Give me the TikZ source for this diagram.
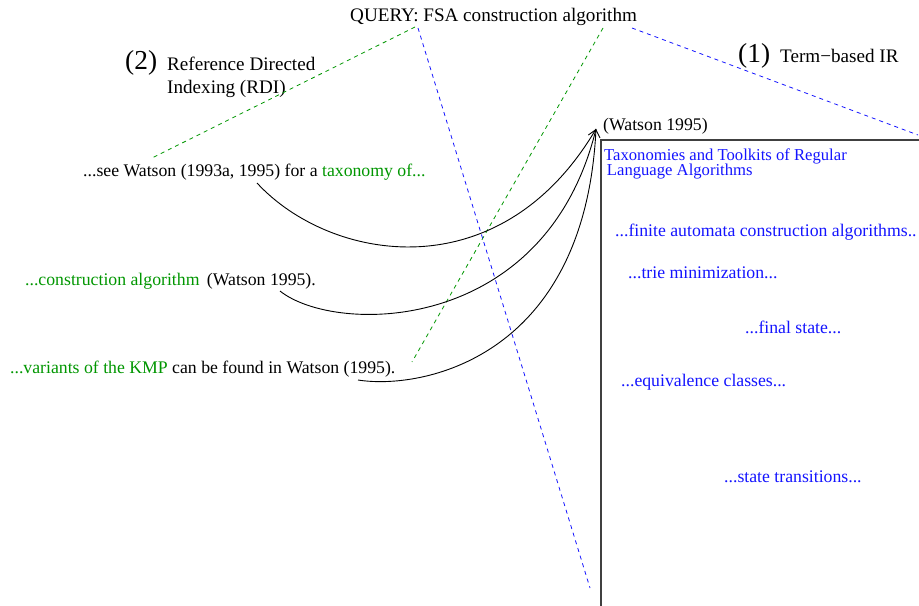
\documentclass[tikz,border=0pt]{standalone}
\usepackage{fontspec}
\setmainfont{Liberation Serif}
\usetikzlibrary{positioning,arrows.meta}

\definecolor{rdigreen}{RGB}{0,150,0}
\definecolor{irblue}{RGB}{20,20,255}

\begin{document}
\begin{tikzpicture}[x=1bp, y=1bp,
txt/.style={inner sep=0pt, anchor=base west, font=\fontsize{17.8pt}{20pt}\selectfont},
small/.style={inner sep=0pt, anchor=base west, align=left, font=\fontsize{16.7pt}{16pt}\selectfont},
big/.style={inner sep=0pt, anchor=base west, align=left, font=\fontsize{19.2pt}{24pt}\selectfont},
num/.style={inner sep=0pt, anchor=base west, font=\fontsize{27.5pt}{30pt}\selectfont},
hit/.style={txt, text=irblue},
rdi/.style={draw=rdigreen, dash pattern=on 4bp off 4bp, line width=0.8bp},
ir/.style={draw=irblue, dash pattern=on 4bp off 4bp, line width=0.8bp},
cite/.style={line width=0.9bp},
doc/.style={draw=black!75, line width=1.3bp}
]
\useasboundingbox (0,0) rectangle (919,-606);
%Nodes
\node[big]  (query)  at (350,-22)  {QUERY: FSA construction algorithm};
\node[num]  (two)    at (125,-70)  {(2)};
\node[big]  (rdi)    at (167,-94)  {Reference Directed\\Indexing (RDI)};
\node[num]  (one)    at (738,-63)  {(1)};
\node[big]  (term)   at (780,-63)  {Term−based IR};
\node[txt]  (see)    at (83,-177)  {...see Watson (1993a, 1995) for a \textcolor{rdigreen}{taxonomy of...}};
\node[txt]  (constr) at (25,-285)  {\textcolor{rdigreen}{...construction algorithm} \,(Watson 1995).};
\node[txt]  (kmp)    at (10,-373)  {\textcolor{rdigreen}{...variants of the KMP} can be found in Watson (1995).};
\node[txt]  (watson) at (603,-131) {(Watson 1995)};
\node[small, text=irblue] (title) at (604,-176) {Taxonomies and Toolkits of Regular\\\,Language Algorithms};
\node[hit]  (fa)     at (615,-237) {...finite automata construction algorithms..};
\node[hit]  (trie)   at (628,-278) {...trie minimization...};
\node[hit]  (final)  at (745,-333) {...final state...};
\node[hit]  (equiv)  at (621,-386) {...equivalence classes...};
\node[hit]  (trans)  at (724,-482) {...state transitions...};
%Points
\coordinate (q1)   at (415,-27);
\coordinate (q2)   at (418,-28);
\coordinate (q3)   at (603,-28);
\coordinate (q4)   at (632,-28);
\coordinate (g1)   at (152,-158);
\coordinate (g2)   at (412,-362);
\coordinate (b1)   at (590,-588);
\coordinate (b2)   at (918,-135);
\coordinate (tip)  at (596,-129);
\coordinate (c1)   at (257,-183);
\coordinate (c2)   at (280,-291);
\coordinate (c3)   at (358,-380);
\coordinate (ne)   at (919,-140);
\coordinate (nw)   at (601,-140);
\coordinate (sw)   at (601,-606);
%Lines
\draw[doc] (ne) -- (nw) -- (sw);
\draw[rdi] (q1) -- (g1);
\draw[rdi] (q3) -- (g2);
\draw[ir]  (q2) -- (b1);
\draw[ir]  (q4) -- (b2);
\draw[cite] (c1) .. controls (330,-262) and (500,-292) .. (tip);
\draw[cite,-{Straight Barb[length=7bp,width=12bp]}] (c2) .. controls (335,-335) and (545,-335) .. (tip);
\draw[cite] (c3) .. controls (420,-390) and (585,-360) .. (tip);
\end{tikzpicture}
\end{document}
